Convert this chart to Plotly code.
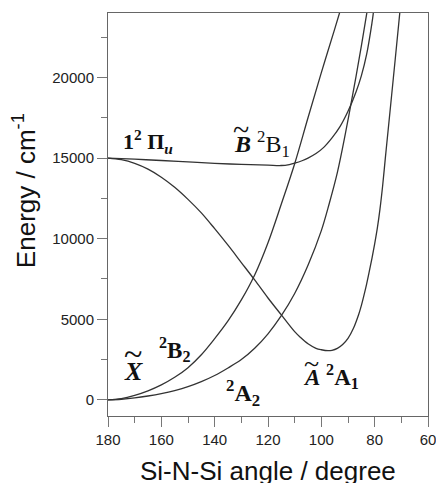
import plotly.graph_objects as go

# B~ 2B1 state (correlates with 1 2Pi_u)
angle_B1 = [180, 170, 160, 150, 140, 130, 120, 115, 112, 110, 107, 105, 102, 99, 96, 93, 90, 87, 85, 83, 81, 80.5, 80]
energy_B1 = [15000, 14930, 14850, 14760, 14670, 14610, 14560, 14540, 14600, 14680, 14850, 15000, 15280, 15680, 16250, 16950, 17900, 19100, 20100, 21450, 23400, 24000, 24700]

# A~ 2A1 state
angle_A1 = [180, 175, 170, 165, 160, 155, 150, 145, 140, 135, 130, 125, 120, 115, 110, 108, 105, 102, 100, 97.5, 96, 94, 92, 90, 88, 86, 85, 84, 83, 82, 81, 80, 79, 78, 77, 76, 75, 73, 71, 70]
energy_A1 = [15000, 14900, 14675, 14315, 13815, 13190, 12440, 11600, 10620, 9595, 8520, 7440, 6320, 5270, 4230, 3900, 3480, 3200, 3110, 3050, 3075, 3195, 3435, 3815, 4425, 5300, 5850, 6500, 7200, 7980, 8800, 9680, 10650, 11850, 13300, 15000, 16650, 19950, 23300, 25000]

# X~ 2B2 state
angle_B2 = [180, 175, 170, 165, 160, 155, 150, 145, 140, 135, 130, 125, 120, 115, 110, 105, 100, 95, 92]
energy_B2 = [0, 80, 280, 560, 930, 1400, 2000, 2800, 3800, 4900, 6200, 7750, 9750, 12150, 14650, 17500, 20300, 23000, 24650]

# 2A2 state
angle_A2 = [180, 175, 170, 165, 160, 155, 150, 145, 140, 135, 130, 125, 120, 115, 110, 105, 100, 97, 94, 91, 89, 87, 85, 83, 82]
energy_A2 = [0, 40, 120, 240, 390, 580, 820, 1130, 1510, 1980, 2500, 3200, 4100, 5220, 6600, 8350, 10500, 12200, 14100, 16500, 18250, 20050, 21950, 23950, 25000]

x_ticks = [180, 160, 140, 120, 100, 80, 60]
x_ticktext = ["180", "160", "140", "120", "100", "80", "60"]
y_ticks = [0, 5000, 10000, 15000, 20000]
y_ticktext = ["0", "5000", "10000", "15000", "20000"]

line_style = dict(color="#333333", width=1.3, shape="spline", smoothing=1.0)

fig = go.Figure()
for xs, ys in [(angle_B1, energy_B1), (angle_A1, energy_A1), (angle_B2, energy_B2), (angle_A2, energy_A2)]:
    fig.add_trace(go.Scatter(x=xs, y=ys, mode="lines", line=line_style, hoverinfo="skip", showlegend=False))

serif = "Liberation Serif, Times New Roman, serif"
sans = "Arial, Liberation Sans, sans-serif"

# (text, angle, energy, size)
labels = [
    ("<b>1<sup>2</sup> Π<sub><i>u</i></sub></b>", 165.0, 16050, 22),
    ("<b><i>B</i></b> <sup>2</sup>B<sub>1</sub>", 122.3, 15850, 24),
    ("<b><i>X</i></b>", 170.6, 1750, 26),
    ("<b><sup>2</sup>B<sub>2</sub></b>", 155.0, 3100, 23),
    ("<b><sup>2</sup>A<sub>2</sub></b>", 129.5, 430, 24),
    ("<b><i>A</i> <sup>2</sup>A<sub>1</sub></b>", 96.5, 1430, 23),
]
# tildes over the state letters (text, angle, energy, size)
tildes = [
    ("~", 130.3, 16800, 30),
    ("~", 170.8, 2850, 34),
    ("~", 103.6, 2250, 28),
]

annotations = []
for txt, x, y, s in labels:
    annotations.append(dict(text=txt, x=x, y=y, xref="x", yref="y", showarrow=False,
                            xanchor="center", yanchor="middle",
                            font=dict(family=serif, size=s, color="#111111")))
for txt, x, y, s in tildes:
    annotations.append(dict(text=txt, x=x, y=y, xref="x", yref="y", showarrow=False,
                            xanchor="center", yanchor="middle",
                            font=dict(family=serif, size=s, color="#111111")))

annotations.append(dict(text="Si-N-Si angle / degree", xref="paper", yref="paper", x=0.5, y=0,
                        yshift=-55, xanchor="center", yanchor="middle", showarrow=False,
                        font=dict(family=sans, size=26, color="#111111")))
annotations.append(dict(text="Energy / cm<sup>-1</sup>", xref="paper", yref="paper", x=0, y=0.558,
                        xshift=-84, xanchor="center", yanchor="middle", textangle=-90, showarrow=False,
                        font=dict(family=sans, size=26, color="#111111")))

fig.update_layout(
    width=436, height=483,
    margin=dict(l=108, r=8, t=13, b=67, autoexpand=False),
    paper_bgcolor="white", plot_bgcolor="white",
    annotations=annotations,
    xaxis=dict(range=[180, 60], tickvals=x_ticks, ticktext=x_ticktext, ticks="outside", ticklen=10,
               tickcolor="#777777", ticklabeloverflow="allow", automargin=False,
               showline=True, linecolor="#666666", linewidth=1, mirror=True, showgrid=False, zeroline=False,
               tickfont=dict(family=sans, size=15, color="#222222"),
               minor=dict(dtick=10, ticks="outside", ticklen=6, tickcolor="#777777", showgrid=False)),
    yaxis=dict(range=[-1000, 24000], tickvals=y_ticks, ticktext=y_ticktext, ticks="outside", ticklen=10,
               tickcolor="#777777", automargin=False,
               showline=True, linecolor="#666666", linewidth=1, mirror=True, showgrid=False, zeroline=False,
               tickfont=dict(family=sans, size=15, color="#222222"),
               minor=dict(dtick=2500, ticks="outside", ticklen=6, tickcolor="#777777", showgrid=False)),
)

fig.write_html("out.html")
